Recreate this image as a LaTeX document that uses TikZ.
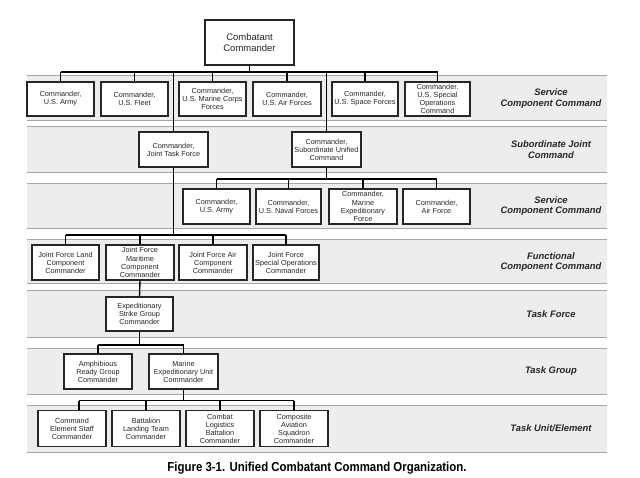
\documentclass[tikz,border=0pt]{standalone}
\usepackage{fontspec}
\setmainfont{Liberation Sans}
\newfontfamily\capfont[FakeStretch=0.88]{Liberation Sans}
\begin{document}
\begin{tikzpicture}[x=1pt,y=-1pt,
  bx/.style={draw=black!85, line width=1.05pt, fill=white, align=center, inner sep=0pt,
    text=black!85, font=\fontsize{7.3}{8.1}\selectfont},
  lbl/.style={align=center, font=\fontsize{9.4}{10.8}\selectfont\bfseries\itshape, text=black!85},
  conn/.style={draw=black, line width=1.4pt},
  bandfill/.style={fill=black!7},
  bandline/.style={draw=black!35, line width=1pt}]
\useasboundingbox (0,0) rectangle (640,478);
% bands
\foreach \t/\b in {76/121,127/173,183.5/229,240/284,291/338,348.5/394,405/452}{
  \fill[bandfill] (27,\t) rectangle (607,\b);
  \draw[bandline] (27,\t) -- (607,\t);
  \draw[bandline] (27,\b) -- (607,\b);
}
% bus levels
\coordinate (b1) at (0,72);
\coordinate (b3) at (0,179);
\coordinate (b4) at (0,235);
\coordinate (b6) at (0,345);
\coordinate (b7) at (0,400.5);
% nodes
\node[bx, minimum width=89pt, minimum height=45pt, font=\fontsize{9.5}{10.8}\selectfont] (cc) at (249.5,42.5) {Combatant\\Commander};
% row 1
\node[bx, minimum width=67pt, minimum height=34pt] (a1) at (60.5,99) {Commander,\\U.S. Army};
\node[bx, minimum width=67pt, minimum height=34pt] (f1) at (134.5,99) {Commander,\\U.S. Fleet};
\node[bx, minimum width=67pt, minimum height=34pt] (m1) at (212.5,99) {Commander,\\U.S. Marine Corps\\Forces};
\node[bx, minimum width=68pt, minimum height=34pt] (af1) at (287,99) {Commander,\\U.S. Air Forces};
\node[bx, minimum width=66pt, minimum height=34pt] (sp1) at (365,99) {Commander,\\U.S. Space Forces};
\node[bx, minimum width=65pt, minimum height=34pt] (so1) at (437.5,99) {Commander,\\U.S. Special\\Operations\\Command};
% row 2
\node[bx, minimum width=69pt, minimum height=35pt] (jtf) at (173.5,149.5) {Commander,\\Joint Task Force};
\node[bx, minimum width=69pt, minimum height=35pt] (suc) at (326.5,149.5) {Commander,\\Subordinate Unified\\Command};
% row 3
\node[bx, minimum width=67pt, minimum height=35pt] (a2) at (216.5,206.5) {Commander,\\U.S. Army};
\node[bx, minimum width=65pt, minimum height=35pt] (n2) at (288.5,206.5) {Commander,\\U.S. Naval Forces};
\node[bx, minimum width=68pt, minimum height=35pt] (me2) at (363,206.5) {Commander,\\Marine\\Expeditionary\\Force};
\node[bx, minimum width=67pt, minimum height=35pt] (af2) at (436.5,206.5) {Commander,\\Air Force};
% row 4
\node[bx, minimum width=67pt, minimum height=35pt] (lcc) at (65.5,262.5) {Joint Force Land\\Component\\Commander};
\node[bx, minimum width=68pt, minimum height=35pt] (mcc) at (140,262.5) {Joint Force\\Maritime\\Component\\Commander};
\node[bx, minimum width=68pt, minimum height=35pt] (acc) at (213,262.5) {Joint Force Air\\Component\\Commander};
\node[bx, minimum width=66pt, minimum height=35pt] (socc) at (286,262.5) {Joint Force\\Special Operations\\Commander};
% row 5
\node[bx, minimum width=67pt, minimum height=34pt] (esg) at (139.5,314) {Expeditionary\\Strike Group\\Commander};
% row 6
\node[bx, minimum width=68pt, minimum height=35pt] (arg) at (98,371.5) {Amphibious\\Ready Group\\Commander};
\node[bx, minimum width=69pt, minimum height=35pt] (meu) at (183.5,371.5) {Marine\\Expeditionary Unit\\Commander};
% row 7
\node[bx, minimum width=68pt, minimum height=36pt] (ce) at (72,428.6) {Command\\Element Staff\\Commander};
\node[bx, minimum width=68pt, minimum height=36pt] (blt) at (146,428.6) {Battalion\\Landing Team\\Commander};
\node[bx, minimum width=68pt, minimum height=36pt] (clb) at (220,428.6) {Combat\\Logistics\\Battalion\\Commander};
\node[bx, minimum width=68pt, minimum height=36pt] (cas) at (294,428.6) {Composite\\Aviation\\Squadron\\Commander};
% labels
\node[lbl] (l1) at (551,98.5) {Service\\Component Command};
\node[lbl] (l2) at (551,150) {Subordinate Joint\\Command};
\node[lbl] (l3) at (551,206) {Service\\Component Command};
\node[lbl] (l4) at (551,262) {Functional\\Component Command};
\node[lbl] (l5) at (551,314.5) {Task Force};
\node[lbl] (l6) at (551,371) {Task Group};
\node[lbl] (l7) at (551,428.5) {Task Unit/Element};
% caption
\node[font=\capfont\fontsize{13}{15}\selectfont\bfseries] (cap) at (317,468) {Figure 3-1. Unified Combatant Command Organization.};
% connectors: level 1
\draw[conn] (cc.south) -- (cc.south |- b1);
\draw[conn] (a1.north |- b1) -- (so1.north |- b1);
\foreach \n in {a1,f1,m1,af1,sp1,so1} \draw[conn] (\n.north |- b1) -- (\n.north);
\draw[conn] (jtf.north |- b1) -- (jtf.north);
\draw[conn] (suc.north |- b1) -- (suc.north);
% level 3
\draw[conn] (suc.south) -- (suc.south |- b3);
\draw[conn] (a2.north |- b3) -- (af2.north |- b3);
\foreach \n in {a2,n2,me2,af2} \draw[conn] (\n.north |- b3) -- (\n.north);
% level 4
\draw[conn] (jtf.south) -- (jtf.south |- b4);
\draw[conn] (lcc.north |- b4) -- (socc.north |- b4);
\foreach \n in {lcc,mcc,acc,socc} \draw[conn] (\n.north |- b4) -- (\n.north);
% level 5
\draw[conn] (mcc.south) -- (esg.north);
% level 6
\draw[conn] (esg.south) -- (esg.south |- b6);
\draw[conn] (arg.north |- b6) -- (meu.north |- b6);
\foreach \n in {arg,meu} \draw[conn] (\n.north |- b6) -- (\n.north);
% level 7
\draw[conn] (meu.south) -- (meu.south |- b7);
\draw[conn] ([xshift=7pt]ce.north |- b7) -- (cas.north |- b7);
\draw[conn] ([xshift=7pt]ce.north |- b7) -- ([xshift=7pt]ce.north);
\foreach \n in {blt,clb,cas} \draw[conn] (\n.north |- b7) -- (\n.north);
\end{tikzpicture}
\end{document}
